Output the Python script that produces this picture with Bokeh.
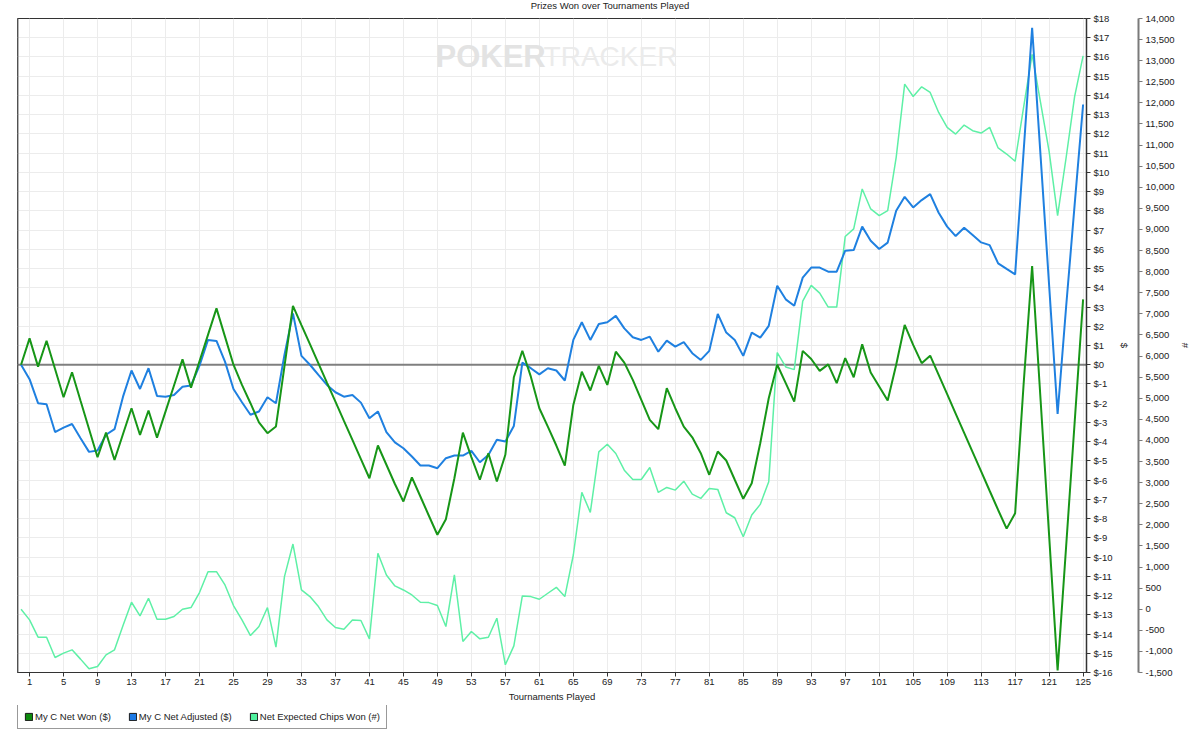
from bokeh.plotting import figure
from bokeh.layouts import column
from bokeh.models import (Range1d, LinearAxis, FixedTicker, NumeralTickFormatter, Span,
                          Label, Legend, LegendItem, ColumnDataSource)
from bokeh.embed import file_html
from bokeh.resources import INLINE

# ---------------- data ----------------
tournaments = list(range(0, 126))

net_won = [0, 1.37, -0.1, 1.25, -0.22, -1.69, -0.39, -1.87, -3.34, -4.81,
           -3.53, -4.95, -3.6, -2.26, -3.65, -2.38, -3.79, -2.44, -1.08, 0.28,
           -1.19, 0.18, 1.55, 2.93, 1.46, 0.0, -1.05, -2.0, -3.0, -3.56,
           -3.21, -0.08, 3.06, 2.06, 1.07, 0.07, -0.93, -1.92, -2.92, -3.91,
           -4.91, -5.9, -4.2, -5.2, -6.2, -7.11, -5.86, -6.85, -7.85, -8.84,
           -8.03, -5.9, -3.53, -4.8, -5.98, -4.6, -6.07, -4.68, -0.65, 0.73,
           -0.62, -2.26, -3.22, -4.2, -5.24, -2.09, -0.36, -1.34, -0.06, -1.05,
           0.68, 0.11, -0.79, -1.83, -2.87, -3.35, -1.22, -2.26, -3.22, -3.77,
           -4.6, -5.72, -4.51, -4.98, -5.98, -6.97, -6.16, -4.08, -1.74, 0.0,
           -0.96, -1.92, 0.72, 0.3, -0.32, 0.02, -0.96, 0.34, -0.65, 1.06,
           -0.4, -1.13, -1.86, 0.0, 2.07, 1.03, 0.08, 0.47, -0.53, -1.53,
           -2.54, -3.54, -4.54, -5.54, -6.55, -7.55, -8.52, -7.72, -1.0, 5.13,
           -1.86, -8.87, -15.89, -9.46, -3.03, 3.40]

net_adjusted = [0, -0.75, -2.0, -2.05, -3.5, -3.27, -3.08, -3.82, -4.53, -4.46,
                -3.64, -3.35, -1.66, -0.3, -1.26, -0.18, -1.62, -1.66, -1.57, -1.14,
                -1.08, -0.05, 1.29, 1.24, 0.16, -1.26, -1.95, -2.6, -2.43, -1.69,
                -2.0, 0.51, 2.67, 0.46, 0.0, -0.53, -1.05, -1.43, -1.66, -1.57,
                -1.97, -2.78, -2.43, -3.5, -4.04, -4.34, -4.77, -5.24, -5.24, -5.38,
                -4.86, -4.72, -4.72, -4.48, -5.07, -4.69, -3.9, -3.99, -3.18, 0.11,
                -0.18, -0.5, -0.18, -0.3, -0.82, 1.29, 2.21, 1.29, 2.12, 2.21,
                2.54, 1.89, 1.43, 1.29, 1.46, 0.68, 1.25, 0.94, 1.17, 0.6,
                0.25, 0.72, 2.64, 1.67, 1.29, 0.46, 1.67, 1.41, 2.02, 4.11,
                3.4, 3.07, 4.53, 5.05, 5.05, 4.84, 4.84, 5.93, 5.96, 7.18,
                6.45, 6.02, 6.35, 8.0, 8.73, 8.18, 8.56, 8.87, 7.9, 7.18,
                6.69, 7.12, 6.74, 6.36, 6.22, 5.27, 4.98, 4.70, 11.1, 17.51,
                10.82, 4.13, -2.56, 3.0, 8.3, 13.53]

expected_chips = [0, -253, -663, -663, -1144, -1042, -963, -1183, -1412, -1357,
                  -1081, -963, -387, 165, -158, 260, -237, -237, -174, 0,
                  39, 394, 890, 890, 575, 86, -253, -624, -410, 39,
                  -899, 772, 1545, 457, 299, 62, -253, -434, -473, -253,
                  -268, -702, 1324, 812, 552, 456, 338, 165, 157, 86,
                  -410, 812, -766, -529, -702, -663, -213, -1317, -868, 315,
                  299, 236, 378, 520, 299, 1285, 2768, 2295, 3730, 3911,
                  3690, 3296, 3075, 3075, 3359, 2767, 2886, 2823, 3035, 2728,
                  2626, 2863, 2840, 2286, 2168, 1718, 2231, 2484, 3020, 6081,
                  5741, 5679, 7302, 7674, 7492, 7161, 7161, 8832, 9013, 9960,
                  9486, 9329, 9447, 10709, 12444, 12152, 12381, 12247, 11774, 11419,
                  11261, 11474, 11340, 11285, 11419, 10932, 10788, 10616, 11900, 13150,
                  12000, 10850, 9330, 10700, 12150, 13116]

x_ticks = list(range(1, 126, 4))
dollar_ticks = list(range(-16, 19))
dollar_tick_labels = ["$" + str(v) for v in dollar_ticks]
chip_ticks = list(range(-1500, 14001, 500))

series_names = ["My C Net Won ($)", "My C Net Adjusted ($)", "Net Expected Chips Won (#)"]
title_text = "Prizes Won over Tournaments Played"
x_label = "Tournaments Played"

# ---------------- style ----------------
FONT = "Liberation Sans"
FS = "9.5px"
GREEN = "#179617"
BLUE = "#1f80e0"
MINT = "#5ef0a6"
TXT = "#222222"

x_range = Range1d(-0.42, 125.4)

# ---------------- title strip ----------------
top = figure(width=1200, height=12, output_backend="svg", toolbar_location=None,
             x_range=x_range, y_range=Range1d(0, 1),
             x_axis_type=None, y_axis_type=None,
             min_border=0, min_border_left=0, min_border_right=0,
             min_border_top=0, min_border_bottom=0,
             outline_line_color=None, background_fill_color="white", border_fill_color="white")
top.xgrid.visible = False
top.ygrid.visible = False
top.add_layout(Label(x=69.32, y=0.55, text=title_text, text_font=FONT, text_font_size=FS,
                     text_color=TXT, text_align="center", text_baseline="middle"))

# ---------------- main chart ----------------
p = figure(width=1200, height=693, output_backend="svg", toolbar_location=None,
           x_range=x_range, y_range=Range1d(-16, 18),
           y_axis_location="right",
           min_border_left=17, min_border_right=114, min_border_top=6, min_border_bottom=33,
           background_fill_color="white", border_fill_color="white")
p.extra_y_ranges = {"chips": Range1d(-1500, 14000)}

p.outline_line_color = "#333333"
p.outline_line_width = 1

# x axis
xa = p.xaxis[0]
xa.ticker = FixedTicker(ticks=x_ticks)
xa.axis_label = x_label
xa.axis_label_text_font = FONT
xa.axis_label_text_font_size = FS
xa.axis_label_text_font_style = "normal"
xa.axis_label_text_color = TXT
xa.axis_label_standoff = 3
xa.major_label_text_font = FONT
xa.major_label_text_font_size = FS
xa.major_label_text_color = TXT
xa.major_label_standoff = 2
xa.major_tick_out = 4
xa.major_tick_in = 0
xa.minor_tick_out = 0
xa.minor_tick_in = 0
xa.axis_line_color = "#333333"
xa.major_tick_line_color = "#333333"

# $ axis (right, next to frame)
ya = p.yaxis[0]
ya.ticker = FixedTicker(ticks=dollar_ticks)
ya.major_label_overrides = dict(zip(dollar_ticks, dollar_tick_labels))
ya.axis_label = "$"
ya.axis_label_text_font = FONT
ya.axis_label_text_font_size = FS
ya.axis_label_text_font_style = "normal"
ya.axis_label_text_color = TXT
ya.axis_label_standoff = 3
ya.major_label_text_font = FONT
ya.major_label_text_font_size = FS
ya.major_label_text_color = TXT
ya.major_label_standoff = 3
ya.major_tick_out = 4
ya.major_tick_in = 0
ya.minor_tick_out = 0
ya.minor_tick_in = 0
ya.axis_line_color = "#333333"
ya.axis_line_width = 1.5
ya.major_tick_line_color = "#333333"

# spacer axis: one invisible tick so that it takes a few pixels of width
spacer = LinearAxis(y_range_name="chips", ticker=FixedTicker(ticks=[0]),
                    major_label_overrides={0: ""},
                    axis_line_color=None, major_tick_line_color=None, minor_tick_line_color=None,
                    major_tick_out=6, major_tick_in=0, minor_tick_out=0, minor_tick_in=0,
                    major_label_standoff=0)
p.add_layout(spacer, "right")

# # axis
ca = LinearAxis(y_range_name="chips", ticker=FixedTicker(ticks=chip_ticks),
                formatter=NumeralTickFormatter(format="0,0"), axis_label="#")
ca.axis_label_text_font = FONT
ca.axis_label_text_font_size = FS
ca.axis_label_text_font_style = "normal"
ca.axis_label_text_color = TXT
ca.axis_label_standoff = 2
ca.major_label_text_font = FONT
ca.major_label_text_font_size = FS
ca.major_label_text_color = TXT
ca.major_label_standoff = 3
ca.major_tick_out = 4
ca.major_tick_in = 0
ca.minor_tick_out = 0
ca.minor_tick_in = 0
ca.axis_line_color = "#7a7a7a"
ca.axis_line_width = 2
ca.major_tick_line_color = "#7a7a7a"
p.add_layout(ca, "right")

# grids
p.xgrid[0].ticker = FixedTicker(ticks=x_ticks)
p.ygrid[0].ticker = FixedTicker(ticks=dollar_ticks)
p.xgrid[0].grid_line_color = "#ececec"
p.ygrid[0].grid_line_color = "#ececec"

# watermark
wm1 = Label(x=48.78, y=16.0, text="POKER", text_font=FONT,
            text_font_style="bold", text_font_size="31px", text_color="#e3e3e3",
            text_baseline="middle", text_align="left", level="underlay")
wm2 = Label(x=61.5, y=16.0, text="TRACKER", text_font=FONT,
            text_font_style="normal", text_font_size="28px", text_color="#ebebeb",
            text_baseline="middle", text_align="left", level="underlay")
p.add_layout(wm1)
p.add_layout(wm2)

# zero line and left frame edge
p.add_layout(Span(location=0, dimension="width", line_color="#7f7f7f", line_width=2,
                  level="underlay"))
p.add_layout(Span(location=-0.42, dimension="height", line_color="#6f6f6f", line_width=2))

# lines
p.line(tournaments, expected_chips, y_range_name="chips", line_color=MINT, line_width=1.5)
p.line(tournaments, net_adjusted, line_color=BLUE, line_width=2)
p.line(tournaments, net_won, line_color=GREEN, line_width=2)

# ---------------- legend strip ----------------
lg = figure(width=1200, height=36, output_backend="svg", toolbar_location=None,
            x_range=Range1d(0, 1), y_range=Range1d(0, 1),
            x_axis_type=None, y_axis_type=None,
            min_border=0, min_border_left=0, min_border_right=0,
            min_border_top=0, min_border_bottom=0,
            outline_line_color=None, background_fill_color="white", border_fill_color="white")
lg.xgrid.visible = False
lg.ygrid.visible = False

NAN = float("nan")
sw_colors = ["#0d8a0d", "#1d7ae6", "#4ff29e"]
items = []
for name, col in zip(series_names, sw_colors):
    # a single NaN row: nothing is drawn in the strip, but the legend swatch renders
    src = ColumnDataSource(dict(left=[NAN], right=[NAN], top=[NAN], bottom=[NAN]))
    r = lg.quad(left="left", right="right", top="top", bottom="bottom", source=src,
                fill_color=col, line_color="#1a1a1a", line_width=1)
    items.append(LegendItem(label=name, renderers=[r]))

legend = Legend(items=items, orientation="horizontal", location=(0, 12), margin=0,
                padding=6, spacing=17, glyph_width=9, glyph_height=9, label_standoff=2,
                label_height=12, label_width=10,
                label_text_font=FONT, label_text_font_size=FS, label_text_color=TXT,
                border_line_color="#333333", border_line_width=1,
                background_fill_color="white", background_fill_alpha=1.0)
lg.add_layout(legend, "center")

layout = column(top, p, lg, spacing=0)
open("out.html", "w").write(file_html(layout, INLINE))
